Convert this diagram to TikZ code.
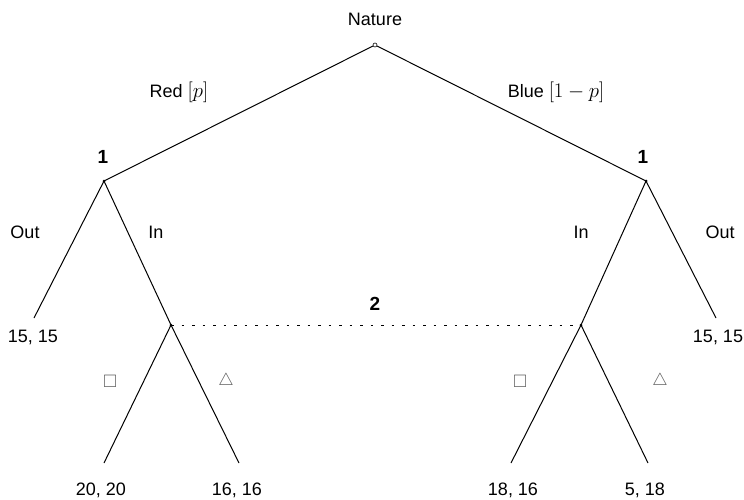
\documentclass[tikz,border=0pt]{standalone}
\usepackage{amssymb}
\usepackage{fontspec}
\setmainfont{Liberation Sans}
\newcommand{\probm}[1]{{\fontsize{21}{24}\selectfont$#1$}}
\begin{document}
\begin{tikzpicture}[x=1pt,y=-1pt,
  edge/.style={line width=1pt},
  lbl/.style={font=\fontsize{18}{21}\selectfont, inner sep=0pt},
  sym/.style={font=\fontsize{18}{21}\selectfont, inner sep=0pt, text=black!65},
  plbl/.style={font=\fontsize{19}{22}\selectfont\bfseries, inner sep=0pt},
  dec/.style={circle, fill=black, inner sep=0pt, minimum size=3pt},
  info/.style={line width=1pt, dash pattern=on 2.5pt off 8pt}]
\useasboundingbox (0,0) rectangle (744,499);
\node[circle, draw, fill=white, inner sep=0pt, minimum size=4pt, line width=0.6pt] (root) at (375,45) {};
\node[lbl] (nat) at (375,19) {Nature};
\node[dec] (l1) at (104,181) {};
\node[dec] (r1) at (646,181) {};
\node[dec] (l2) at (171,325) {};
\node[dec] (r2) at (581,325) {};
\coordinate (lo) at (34,318);
\coordinate (ro) at (716,318);
\coordinate (a1) at (104,463);
\coordinate (a2) at (239,463);
\coordinate (b1) at (511,463);
\coordinate (b2) at (648,463);
\draw[edge] (root) -- (l1.center);
\draw[edge] (root) -- (r1.center);
\draw[edge] (l1.center) -- (lo);
\draw[edge] (l1.center) -- (l2.center);
\draw[edge] (r1.center) -- (r2.center);
\draw[edge] (r1.center) -- (ro);
\draw[edge] (l2.center) -- (a1);
\draw[edge] (l2.center) -- (a2);
\draw[edge] (r2.center) -- (b1);
\draw[edge] (r2.center) -- (b2);
\draw[info] (l2.center) -- (r2.center);
\node[plbl] at (103,157) {1};
\node[plbl] at (643,157) {1};
\node[plbl] at (375,304) {2};
\node[lbl] at (179,92) {Red \probm{[p]}};
\node[lbl] at (556,92) {Blue \probm{[1-p]}};
\node[lbl] at (25,232) {Out};
\node[lbl] at (156,232) {In};
\node[lbl] at (581,232) {In};
\node[lbl] at (720,232) {Out};
\node[lbl] at (33,337) {15, 15};
\node[lbl] at (718,337) {15, 15};
\node[sym] at (110,381) {$\square$};
\node[sym] at (226,381) {$\triangle$};
\node[sym] at (520,381) {$\square$};
\node[sym] at (660,381) {$\triangle$};
\node[lbl] at (101,490) {20, 20};
\node[lbl] at (237,490) {16, 16};
\node[lbl] at (513,490) {18, 16};
\node[lbl] at (645,490) {5, 18};
\end{tikzpicture}
\end{document}
